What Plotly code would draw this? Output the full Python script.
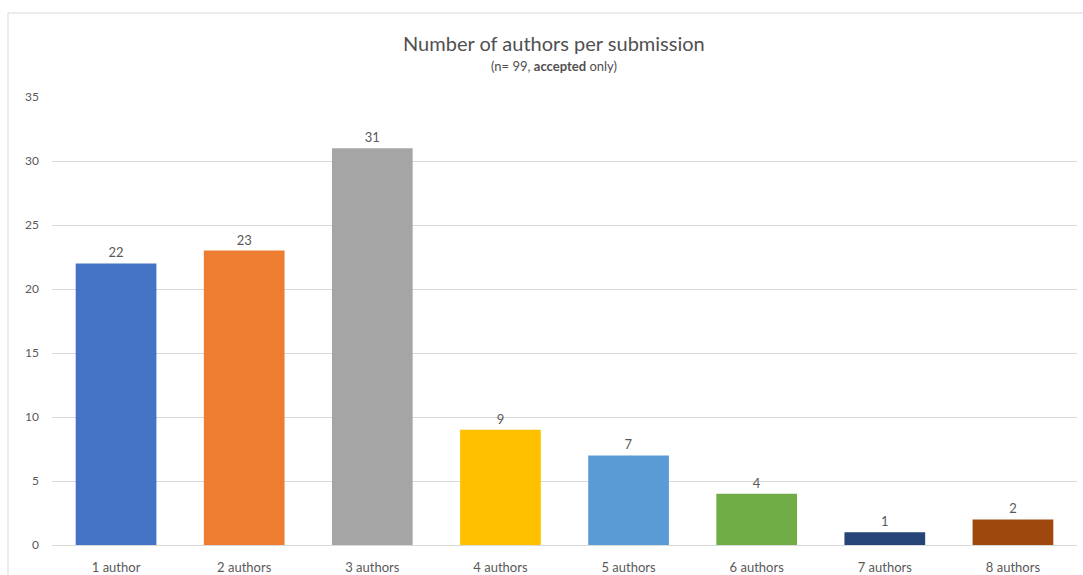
import plotly.graph_objects as go

categories = ["1 author", "2 authors", "3 authors", "4 authors",
              "5 authors", "6 authors", "7 authors", "8 authors"]
submissions = [22, 23, 31, 9, 7, 4, 1, 2]
bar_colors = ["#4472C4", "#ED7D31", "#A5A5A5", "#FFC000",
              "#5B9BD5", "#70AD47", "#264478", "#9E480E"]
y_ticks = [0, 5, 10, 15, 20, 25, 30, 35]

FONT = "Lato, 'Open Sans', sans-serif"
GREY = "#595959"

fig = go.Figure(
    go.Bar(
        x=categories,
        y=submissions,
        marker=dict(color=bar_colors, line=dict(width=0)),
        width=0.63,
        text=[str(v) for v in submissions],
        textposition="outside",
        cliponaxis=False,
        textfont=dict(family=FONT, size=13, color=GREY),
    )
)

fig.update_layout(
    width=1083,
    height=575,
    margin=dict(l=52, r=6, t=97, b=30),
    paper_bgcolor="white",
    plot_bgcolor="white",
    showlegend=False,
    font=dict(family=FONT, color=GREY),
    annotations=[
        dict(text="Number of authors per submission", xref="paper", yref="paper",
             x=0.49, y=1.0, yshift=68, showarrow=False,
             font=dict(family=FONT, size=20, color="#505050")),
        dict(text="(n= 99, <b>accepted</b> only)", xref="paper", yref="paper",
             x=0.49, y=1.0, yshift=41, showarrow=False,
             font=dict(family=FONT, size=13, color="#505050")),
    ],
    shapes=[
        dict(type="rect", xref="paper", yref="paper",
             x0=-44 / 1025, x1=1.02, y0=-0.2, y1=1.0 + 84 / 448,
             line=dict(color="#D9D9D9", width=1), layer="below"),
    ],
)

fig.update_xaxes(
    automargin=False,
    showgrid=False,
    showline=True,
    linecolor="#D9D9D9",
    linewidth=1,
    ticks="",
    ticklabelstandoff=10,
    tickfont=dict(family=FONT, size=13, color=GREY),
)
fig.update_yaxes(
    automargin=False,
    range=[0, 35],
    tickvals=y_ticks,
    showgrid=True,
    gridcolor="#D9D9D9",
    gridwidth=1,
    zeroline=False,
    showline=False,
    ticks="",
    ticklabelstandoff=12,
    tickfont=dict(family=FONT, size=12, color=GREY),
)

fig.write_html("out.html")
